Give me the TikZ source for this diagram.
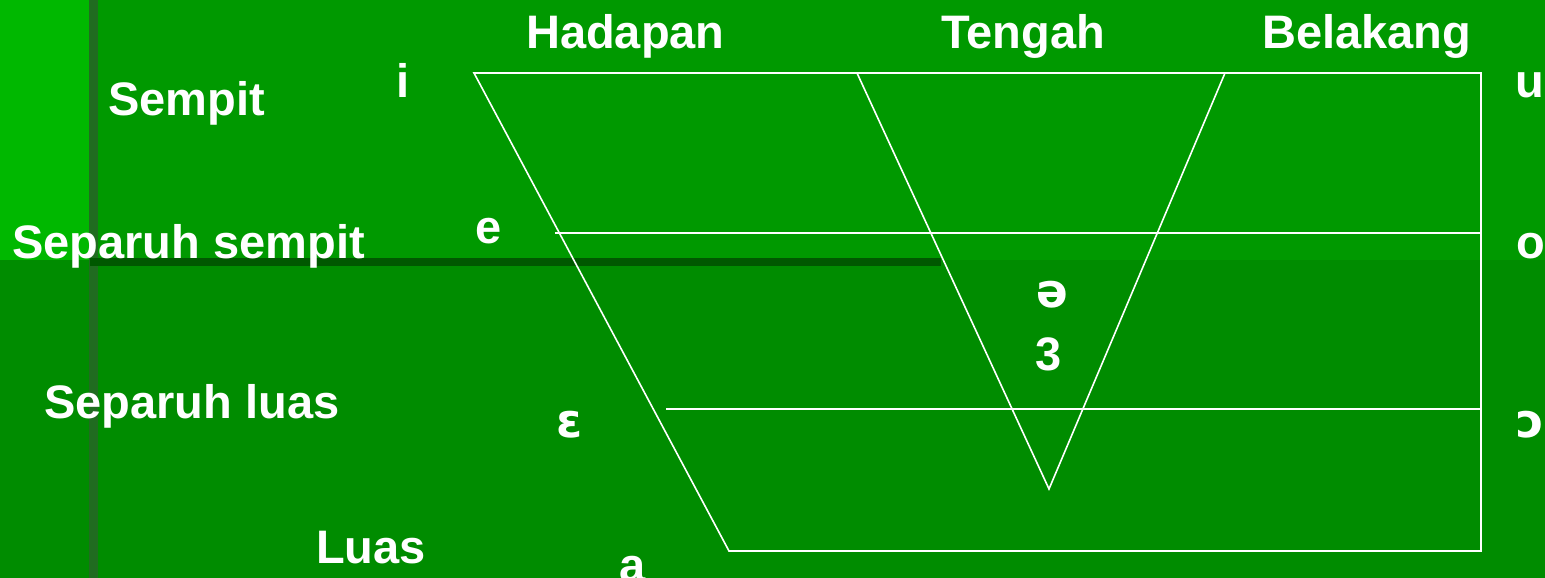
\documentclass[tikz,border=0pt]{standalone}
\usepackage{fontspec}
\setmainfont{Liberation Sans}
\newfontfamily\ipafont{DejaVu Sans}
\definecolor{stripgreen}{RGB}{0,184,0}
\definecolor{topgreen}{RGB}{0,153,0}
\definecolor{botgreen}{RGB}{0,140,0}
\definecolor{barcol}{RGB}{0,88,0}
\definecolor{vlinecol}{RGB}{32,108,32}
\tikzset{
  lbl/.style={text=white, inner sep=0pt, anchor=base west, font=\fontsize{47}{50}\selectfont\bfseries},
  ipa/.style={text=white, inner sep=0pt, anchor=base west, font=\fontsize{47}{50}\selectfont\ipafont\bfseries},
  wl/.style={draw=white, line width=1.6pt}
}
\begin{document}
\begin{tikzpicture}[x=1pt,y=-1pt]
\useasboundingbox (0,0) rectangle (1545,578);
% background
\fill[botgreen] (0,0) rectangle (1545,578);
\fill[topgreen] (0,0) rectangle (1545,260);
\fill[stripgreen] (0,0) rectangle (90,260);
\fill[vlinecol] (89,0) rectangle (98,578);
\fill[barcol] (90,258) rectangle (941,266);
% frame coordinates
\coordinate (tl) at (474,73);
\coordinate (tr) at (1481,73);
\coordinate (br) at (1481,551);
\coordinate (bl) at (729,551);
\coordinate (m1l) at (555,233);
\coordinate (m1r) at (1481,233);
\coordinate (m2l) at (666,409);
\coordinate (m2r) at (1481,409);
\coordinate (t1) at (857,73);
\coordinate (t2) at (1225,73);
\coordinate (tb) at (1049,489);
\draw[wl] (tl) -- (tr) -- (br) -- (bl) -- cycle;
\draw[wl] (m1l) -- (m1r);
\draw[wl] (m2l) -- (m2r);
\draw[wl] (t1) -- (tb) -- (t2);
% labels
\node[lbl] (had) at (526,49) {Hadapan};
\node[lbl] (ten) at (941,49) {Tengah};
\node[lbl] (bel) at (1262,49) {Belakang};
\node[lbl] (semp) at (108,115) {Sempit};
\node[lbl] (sps) at (12,258) {Separuh sempit};
\node[lbl] (spl) at (44,418) {Separuh luas};
\node[lbl] (lua) at (316,563) {Luas};
\node[lbl] (vi) at (396,98) {i};
\node[lbl] (vu) at (1515,98) {u};
\node[lbl] (ve) at (475,243) {e};
\node[lbl] (vo) at (1516,258) {o};
\node[ipa] (vschwa) at (1036,307) {ə};
\node[lbl] (vthree) at (1035,370) {3};
\node[ipa] (veps) at (556,437) {ɛ};
\node[ipa] (vopen) at (1516,437) {ɔ};
\node[lbl] (va) at (619,581) {a};
\end{tikzpicture}
\end{document}
